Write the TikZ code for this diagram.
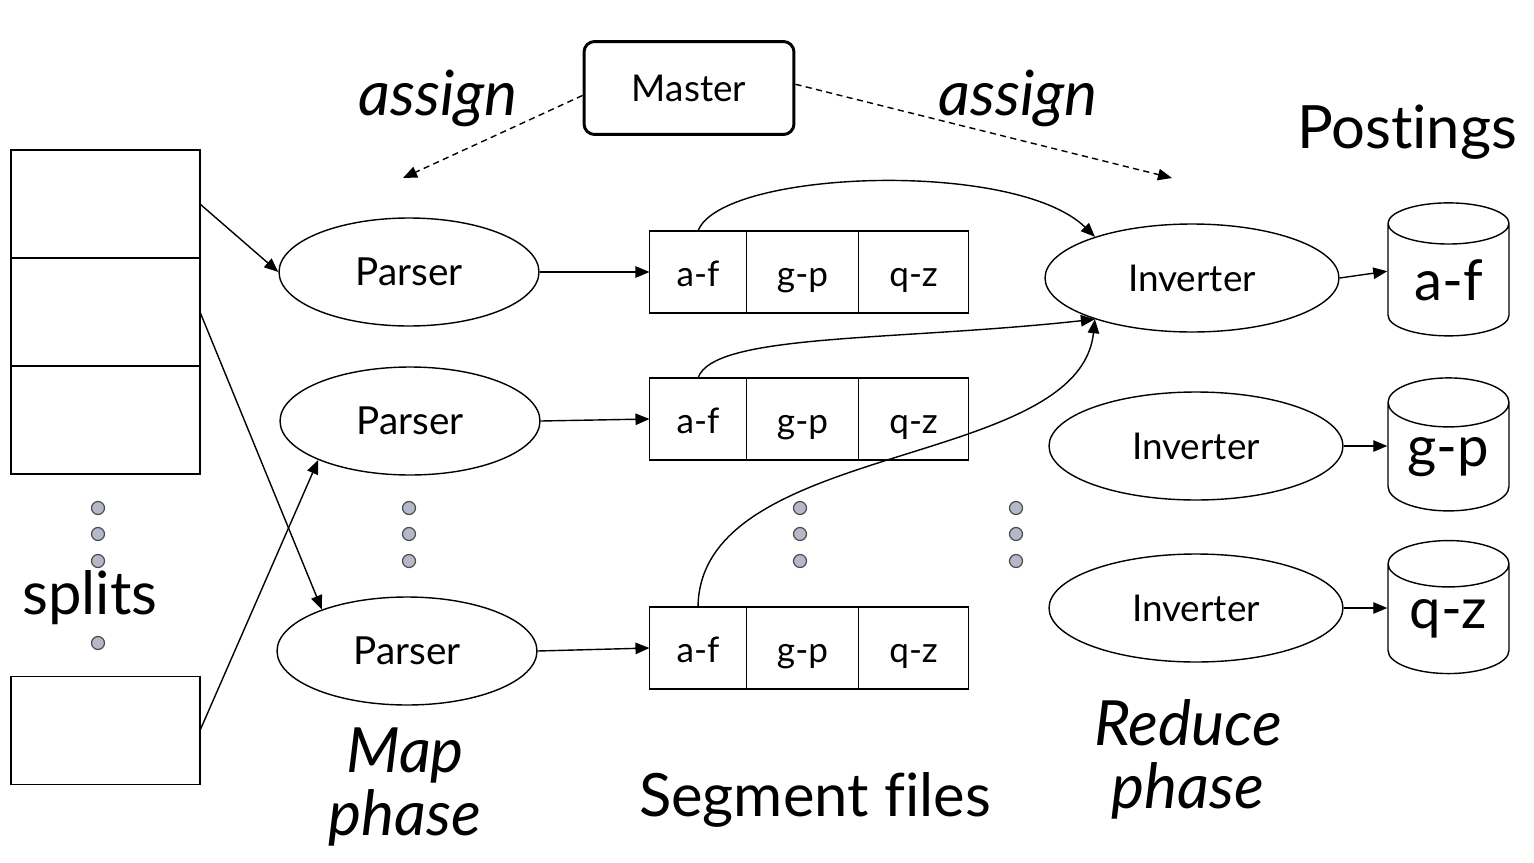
\documentclass[tikz,border=0pt]{standalone}
\usepackage{fontspec}
\setmainfont{Lato}[Ligatures=NoCommon]
\usetikzlibrary{arrows.meta,positioning,shapes.geometric}
\definecolor{dotfill}{RGB}{180,184,200}

\begin{document}
\begin{tikzpicture}[x=0.02cm,y=-0.02cm,line width=0.8pt,
  >={Triangle[length=8pt,width=6.5pt]},
  split/.style={draw,line width=1pt,minimum width=3.78cm,minimum height=2.16cm,inner sep=0pt,outer sep=0pt},
  worker/.style={draw,ellipse,minimum height=2.16cm,inner sep=0pt},
  cell/.style={draw,minimum height=1.64cm,inner sep=0pt,outer sep=0pt,text height=17pt,text depth=0pt,font=\fontsize{20}{24}\selectfont},
  store/.style={draw,cylinder,shape border rotate=90,aspect=0.6,minimum width=2.42cm,minimum height=2.66cm,inner sep=0pt,font=\fontsize{32}{36}\selectfont},
  dot/.style={circle,draw=black!70,line width=0.7pt,fill=dotfill,minimum size=0.26cm,inner sep=0pt},
  big/.style={font=\fontsize{34}{36}\selectfont,align=center},
  bigit/.style={font=\fontsize{35.5}{36}\selectfont\itshape,align=center},
  flow/.style={->},
  ctrl/.style={->,dash pattern=on 3.5pt off 2.5pt}]
  \useasboundingbox[fill=white] (0,0) rectangle (1534,862);
  \node[split] (s1) at (105.5,204) {};
  \node[split,below=0pt of s1] (s2) {};
  \node[split,below=0pt of s2] (s3) {};
  \node[split] (s4) at (105.5,730.5) {};
  \foreach \c/\x in {sp/98,pa/409,sg/800,iv/1016}
    \foreach \y [count=\i] in {508,534,561} \node[dot] (\c\i) at (\x,\y) {};
  \node[dot] (sp4) at (98,643) {};
  \node[big] (splits) at (90,598) {splits};
  \node[worker,minimum width=5.2cm,font=\fontsize{22}{24}\selectfont] (p1) at (409,272) {Parser};
  \node[worker,minimum width=5.2cm,font=\fontsize{22}{24}\selectfont] (p2) at (410,421) {Parser};
  \node[worker,minimum width=5.2cm,font=\fontsize{22}{24}\selectfont] (p3) at (407,651) {Parser};
  \foreach \r/\y in {1/272,2/419,3/648} {
    \node[cell,minimum width=1.94cm] (g\r-a) at (698,\y) {a-f};
    \node[cell,minimum width=2.24cm,right=0pt of g\r-a] (g\r-b) {g-p};
    \node[cell,minimum width=2.2cm,right=0pt of g\r-b] (g\r-c) {q-z};
  }
  \node[worker,minimum width=5.88cm,font=\fontsize{21}{24}\selectfont] (i1) at (1192,278) {Inverter};
  \node[worker,minimum width=5.88cm,font=\fontsize{21}{24}\selectfont] (i2) at (1196,446) {Inverter};
  \node[worker,minimum width=5.88cm,font=\fontsize{21}{24}\selectfont] (i3) at (1196,608) {Inverter};
  \node[store] (c1) at (1448.5,280) {a-f};
  \node[store] (c2) at (1448.5,457) {g-p};
  \node[store] (c3) at (1448.5,619) {q-z};
  \node[draw,rounded corners=6pt,line width=1.7pt,minimum width=4.2cm,minimum height=1.86cm,
    font=\fontsize{21}{24}\selectfont] (master) at (689,88) {Master};
  \node[bigit] (asl) at (438,98) {assign};
  \node[bigit] (asr) at (1018,98) {assign};
  \node[big] (post) at (1407,132) {Postings};
  \node[bigit] (map) at (405,787) {Map\\phase};
  \node[big] (seg) at (815,800) {Segment files};
  \node[bigit] (red) at (1188,759) {Reduce\\phase};
  \coordinate (mapto) at (403,178);
  \coordinate (redto) at (1172,178);
  \draw[ctrl] (master.184) -- (mapto);
  \draw[ctrl] (master.2) -- (redto);
  \draw[flow] (s1.east) -- (p1.west);
  \draw[flow] (s2.east) -- (p3.154);
  \draw[flow] (s4.east) -- (p2.203);
  \foreach \r in {1,2,3} \draw[flow] (p\r.east) -- (g\r-a.west);
  \draw[flow] (g1-a.north) .. controls +(23,-61) and +(-80,-78) .. (i1.157);
  \draw[flow] (g2-a.north) .. controls +(15,-45) and +(-200,22) .. (i1.203);
  \draw[flow] (g3-a.north) .. controls +(2,-167) and +(-16,151) .. (i1.203);
  \draw[flow] (i1.east) -- ([yshift=5pt]c1.west);
  \draw[flow] (i2.east) -- (i2.east -| c2.west);
  \draw[flow] (i3.east) -- (i3.east -| c3.west);
\end{tikzpicture}
\end{document}
